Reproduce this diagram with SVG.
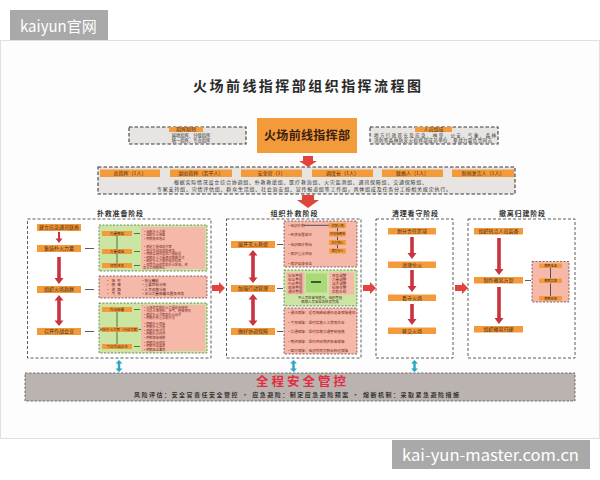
<svg xmlns="http://www.w3.org/2000/svg" width="600" height="480" viewBox="0 0 600 480">
<style>
.cn{font-family:"Noto Sans CJK SC","Noto Sans",sans-serif}
.or{fill:#f39b3b}
.gb{fill:#e7e4e1;stroke:#3a3a3a;stroke-width:1.1;stroke-dasharray:3.5 2}
.ph{fill:#fff;stroke:#4a4a4a;stroke-width:0.9;stroke-dasharray:3 2}
.gr{fill:#cbe5a3;stroke:#5a6a4a;stroke-width:0.8;stroke-dasharray:2 1.5}
.pk{fill:#f6b8a9;stroke:#6a4a4a;stroke-width:0.8;stroke-dasharray:2 1.5}
.pkf{fill:#f6b8a9}
.tg{font-size:5px;fill:#4a2a14;text-anchor:middle}
.ts{font-size:3.2px;fill:#7a2a20}
.tm{font-size:3.6px;fill:#7a2a20}
.ph-t{font-size:7px;fill:#333;text-anchor:middle;font-weight:600}
.ra{fill:#e2433a}
.da{fill:#c9323f}
.ca{fill:#2ba6c6}
.ln{stroke:#333;stroke-width:0.8}
.gl{stroke:#2f5a1f;stroke-width:0.8}
.wm{fill:#a9a9a9}
.wt{font-size:15px;fill:#fff}
</style>
<defs>
<path id="cyan" d="M0 0L3.5 3.5H1.2V8.5H3.5L0 12L-3.5 8.5H-1.2V3.5H-3.5Z"/>
</defs>

<rect x="0.5" y="40.5" width="599" height="398" fill="#fdfdfd" stroke="#e0e0e0"/>

<g id="watermark-top">
<rect class="wm" x="10" y="10" width="98" height="30"/>
<text class="cn wt" x="20" y="32">kaiyun官网</text>
</g>
<g id="watermark-bottom">
<rect class="wm" x="392" y="440" width="198" height="29"/>
<text class="cn wt" x="402" y="461" textLength="177" lengthAdjust="spacingAndGlyphs">kai-yun-master.com.cn</text>
</g>

<g id="title">
<text class="cn" x="193" y="91" font-size="14" font-weight="600" fill="#2a2a2a" textLength="228">火场前线指挥部组织指挥流程图</text>
</g>

<g id="hq">
<rect class="or" x="257" y="118" width="100" height="35"/>
<text class="cn" x="264" y="140" font-size="12" font-weight="700" fill="#3a2010" textLength="86">火场前线指挥部</text>
</g>

<g id="principle">
<rect class="gb" x="129" y="127" width="117" height="17"/>
<rect class="or" x="169" y="127" width="34" height="5"/>
<text class="cn tg" x="186" y="131" font-size="4.5">指挥原则</text>
<text class="cn" x="191" y="137" font-size="4.3" fill="#333" text-anchor="middle">属地指挥、分级指挥</text>
<text class="cn" x="191" y="142" font-size="4.3" fill="#333" text-anchor="middle">统一指挥、专业指挥</text>
</g>

<g id="members">
<rect class="gb" x="370" y="127" width="128" height="17"/>
<rect class="or" x="415" y="127" width="37" height="5"/>
<text class="cn tg" x="433.5" y="131" font-size="4.5">人员组成</text>
<text class="cn" x="374" y="137" font-size="4.5" fill="#333" textLength="122">地方行政首长及应急、林草、公安、气象、森林</text>
<text class="cn" x="374" y="142" font-size="4.5" fill="#333" textLength="118">消防等森林防灭火指挥部成员单位、参战力量负责同志</text>
</g>

<g id="roles">
<rect class="gb" x="98" y="167" width="417" height="27"/>
<rect class="or" x="100" y="169.5" width="60" height="7.5"/>
<rect class="or" x="170" y="169.5" width="62" height="7.5"/>
<rect class="or" x="241" y="169.5" width="61" height="7.5"/>
<rect class="or" x="312" y="169.5" width="61" height="7.5"/>
<rect class="or" x="382" y="169.5" width="61" height="7.5"/>
<rect class="or" x="452" y="169.5" width="62" height="7.5"/>
<text class="cn tg" x="130" y="175">总指挥（1人）</text>
<text class="cn tg" x="201" y="175">副总指挥（若干人）</text>
<text class="cn tg" x="271.5" y="175">安全官（1）</text>
<text class="cn tg" x="342.5" y="175">调度长（1人）</text>
<text class="cn tg" x="412.5" y="175">联络人（1人）</text>
<text class="cn tg" x="483" y="175">新闻发言人（1人）</text>
<text class="cn" x="174" y="184" font-size="5" fill="#333" textLength="253">根据实际情况设立综合协调组、扑救救援组、医疗救治组、火灾监测组、通讯保障组、交通保障组、</text>
<text class="cn" x="157" y="190.5" font-size="5" fill="#333" textLength="294">专家支持组、灾情评估组、群众生活组、社会治安组、宣传报道组等工作组，具体组成及任务分工按相关规定执行。</text>
</g>

<g id="phase1">
<text class="cn ph-t" x="120" y="215.5" textLength="46">扑救准备阶段</text>
<rect class="ph" x="27.5" y="219" width="183.5" height="139"/>
<rect class="or" x="37" y="224" width="44" height="7"/>
<text class="cn tg" x="59" y="229.3">建立应急通讯联络</text>
<rect class="or" x="37" y="245" width="44" height="7"/>
<text class="cn tg" x="59" y="250.3">集结扑火力量</text>
<rect class="or" x="37" y="286" width="44" height="7"/>
<text class="cn tg" x="59" y="291.3">组织火场勘察</text>
<rect class="or" x="37" y="328" width="44" height="7"/>
<text class="cn tg" x="59" y="333.3">召开作战会议</text>
</g>

<g id="p1-muster">
<rect class="gr" x="99" y="225" width="108" height="46"/>
<rect class="pkf" x="141" y="227" width="64" height="42"/>
<line class="gl" x1="117" y1="236" x2="117" y2="249"/>
<line class="gl" x1="117" y1="254" x2="117" y2="263"/>
<rect class="or" x="102" y="231" width="30" height="5"/>
<text class="cn" x="117" y="234.8" font-size="3.6" fill="#4a2a14" text-anchor="middle">力量集结</text>
<rect class="or" x="102" y="249" width="30" height="5"/>
<text class="cn" x="117" y="252.8" font-size="3.6" fill="#4a2a14" text-anchor="middle">力量编组</text>
<rect class="or" x="102" y="263" width="30" height="5"/>
<text class="cn" x="117" y="266.8" font-size="3.6" fill="#4a2a14" text-anchor="middle">领受任务</text>
<line class="gl" x1="134" y1="233.5" x2="140" y2="233.5"/>
<line class="gl" x1="134" y1="251.5" x2="140" y2="251.5"/>
<line class="gl" x1="134" y1="265.5" x2="140" y2="265.5"/>
<g class="cn ts">
<text x="143" y="232.5">•调集扑火力量</text>
<text x="143" y="236">•调配扑火装备</text>
<text x="143" y="239.5">•明确集结地点</text>
<text x="143" y="248">•确定力量编组方案</text>
<text x="143" y="251.5">•划分作战区域和任务</text>
<text x="143" y="255">•明确各组任务和力量配置</text>
<text x="143" y="258.5">•明确扑火力量通讯联络方式</text>
<text x="143" y="262">•确定扑火力量的组织指挥</text>
<text x="143" y="265.5">•领受作战任务和扑火区域，任</text>
<text x="143" y="269">  务分工明确到人</text>
</g>
</g>

<g id="p1-survey">
<rect class="pk" x="99" y="276" width="108" height="22"/>
<g class="cn" font-size="3.6" fill="#5a2018">
<text x="106" y="281.5" letter-spacing="2">•地形</text>
<text x="106" y="286" letter-spacing="2">•植被</text>
<text x="106" y="290.5" letter-spacing="2">•道路</text>
<text x="106" y="295" letter-spacing="2">•气象</text>
<text x="141" y="281.5">•林火蔓延</text>
<text x="141" y="286">•重要目标分布</text>
<text x="141" y="290.5">•人员设施分布</text>
<text x="141" y="295">•灭火力量部署位置及任务</text>
</g>
</g>

<g id="p1-plan">
<rect class="gr" x="99" y="303" width="108" height="50"/>
<rect class="pkf" x="141" y="305" width="64" height="46"/>
<line class="gl" x1="117" y1="312" x2="117" y2="327"/>
<line class="gl" x1="117" y1="332" x2="117" y2="344"/>
<rect class="or" x="102" y="307" width="30" height="5"/>
<text class="cn" x="117" y="310.8" font-size="3.6" fill="#4a2a14" text-anchor="middle">作战部署</text>
<rect class="or" x="102" y="327" width="36" height="5"/>
<text class="cn" x="120" y="330.8" font-size="3.4" fill="#4a2a14" text-anchor="middle">制定扑火方案（行动方案）</text>
<rect class="or" x="102" y="344" width="30" height="5"/>
<text class="cn" x="117" y="347.8" font-size="3.6" fill="#4a2a14" text-anchor="middle">下达作战命令</text>
<line class="gl" x1="134" y1="309.5" x2="140" y2="309.5"/>
<line class="gl" x1="138.5" y1="329.5" x2="141" y2="329.5"/>
<line class="gl" x1="134" y1="346.5" x2="140" y2="346.5"/>
<g class="cn ts">
<text x="143" y="308.5">•火场态势和扑火力量综合研判</text>
<text x="143" y="312">•分析火场地形、天气、植被情况</text>
<text x="143" y="315.5">•确定扑火方案和扑火战术</text>
<text x="143" y="319">•明确扑救重点和方法</text>
<text x="143" y="324.5">•明确扑火目标</text>
<text x="143" y="328">•明确扑火力量</text>
<text x="143" y="331.5">•明确扑救方法</text>
<text x="143" y="335">•明确扑火时间</text>
<text x="143" y="338.5">•明确保障措施</text>
<text x="143" y="343.5">•明确作战任务</text>
<text x="143" y="347">•明确作战要求</text>
<text x="143" y="350.5">•明确安全事项</text>
</g>
</g>

<g id="phase2">
<text class="cn ph-t" x="294" y="215.5" textLength="47">组织扑救阶段</text>
<rect class="ph" x="226.5" y="219" width="134.5" height="139"/>
<rect class="or" x="231" y="241" width="44" height="7"/>
<text class="cn tg" x="253" y="246.3">展开灭火救援</text>
<rect class="or" x="231" y="285" width="44" height="7"/>
<text class="cn tg" x="253" y="290.3">加强行动管理</text>
<rect class="or" x="231" y="328" width="44" height="7"/>
<text class="cn tg" x="253" y="333.3">做好协调保障</text>
</g>

<g id="p2-rescue">
<rect class="pk" x="284" y="221" width="73" height="46"/>
<g class="cn tm">
<text x="287" y="226.5">•组织扑救</text>
<text x="287" y="236">•转移安置群众</text>
<text x="287" y="245.5">•组织医疗救治</text>
<text x="287" y="255">•保护重点目标</text>
<text x="287" y="264.5">•保护自身安全</text>
</g>
<line class="ln" x1="304" y1="225.3" x2="329" y2="225.3"/>
<line class="ln" x1="337.5" y1="228" x2="337.5" y2="231.5"/>
<line class="ln" x1="337.5" y1="236.5" x2="337.5" y2="240"/>
<line class="ln" x1="337.5" y1="245" x2="337.5" y2="248.5"/>
<rect class="or" x="329" y="223" width="17" height="5"/>
<rect class="or" x="329" y="231.5" width="17" height="5"/>
<rect class="or" x="329" y="240" width="17" height="5"/>
<rect class="or" x="329" y="248.5" width="17" height="5"/>
<g class="cn" font-size="3" fill="#4a2a14" text-anchor="middle">
<text x="337.5" y="226.6">侦察火情</text>
<text x="337.5" y="235.1">开设隔离带</text>
<text x="337.5" y="243.6">扑打明火</text>
<text x="337.5" y="252.1">清理余火</text>
</g>
</g>

<g id="p2-manage">
<rect class="gr" x="284" y="270" width="73" height="36"/>
<rect class="pkf" x="286.5" y="272.5" width="18" height="22"/>
<rect class="pkf" x="329" y="272.5" width="25" height="22"/>
<rect x="306" y="273.5" width="21" height="19" fill="#a9da78"/>
<rect x="311" y="281.2" width="10" height="1.6" fill="#2a3a1a"/>
<g class="cn tm">
<text x="288" y="276.5">队伍管理</text>
<text x="288" y="280.5">安全管理</text>
<text x="288" y="284.5">行动管理</text>
<text x="288" y="288.5">现场管理</text>
<text x="288" y="292.5">通讯管理</text>
<text x="332" y="276.5">任务调整</text>
<text x="332" y="280.5">力量调整</text>
<text x="332" y="284.5">战术调整</text>
<text x="332" y="288.5">轮换休整</text>
<text x="332" y="292.5">后勤补给</text>
</g>
<g class="cn" font-size="3.4" fill="#4a2a14" text-anchor="middle">
<text x="320" y="299.2">平人员在营地值守，组织管理</text>
<text x="320" y="303">确保人员安全及任务完成</text>
</g>
</g>

<g id="p2-support">
<rect class="pk" x="284" y="308" width="73" height="46"/>
<g class="cn tm">
<text x="287" y="314">•通讯保障：没有网络和通讯设备保障通讯</text>
<text x="287" y="323.5">•气象保障：适时实施人工增雨作业</text>
<text x="287" y="333">•交通保障：适时实施交通管制措施</text>
<text x="287" y="342.5">•物资保障：适时供给物资装备保障</text>
<text x="287" y="351.5">•医疗保障：组织伤病员救治转运保障</text>
</g>
</g>

<g id="phase3">
<text class="cn ph-t" x="415" y="215.5" textLength="46">清理看守阶段</text>
<rect class="ph" x="376" y="219" width="77" height="139"/>
<rect class="or" x="388" y="228" width="48" height="6.5"/>
<text class="cn tg" x="412" y="233">划分责任区域</text>
<rect class="or" x="388" y="261.5" width="48" height="6.5"/>
<text class="cn tg" x="412" y="266.5">清理余火</text>
<rect class="or" x="388" y="294.5" width="48" height="6.5"/>
<text class="cn tg" x="412" y="299.5">看守火场</text>
<rect class="or" x="388" y="327.5" width="48" height="6.5"/>
<text class="cn tg" x="412" y="332.5">移交火场</text>
</g>

<g id="phase4">
<text class="cn ph-t" x="522" y="215.5" textLength="46">撤离归建阶段</text>
<rect class="ph" x="468" y="219" width="107" height="139"/>
<rect class="or" x="474" y="228" width="49" height="6.5"/>
<text class="cn tg" x="498.5" y="233">组织转点人员装备</text>
<rect class="or" x="474" y="277" width="49" height="6.5"/>
<text class="cn tg" x="498.5" y="282">制作撤离方案</text>
<rect class="or" x="474" y="326" width="49" height="6.5"/>
<text class="cn tg" x="498.5" y="331">组织撤离归建</text>
</g>

<g id="p4-steps">
<rect class="pk" x="532" y="261.5" width="37" height="40.5"/>
<line class="ln" x1="550.5" y1="268" x2="550.5" y2="278.5"/>
<line class="ln" x1="550.5" y1="283.5" x2="550.5" y2="296.5"/>
<rect class="or" x="539" y="263.5" width="23" height="4.5"/>
<rect class="or" x="539" y="278.5" width="23" height="4.5"/>
<rect class="or" x="539" y="296" width="23" height="4.5"/>
<g class="cn" font-size="3.2" fill="#4a2a14" text-anchor="middle">
<text x="550.5" y="267">撤离准备</text>
<text x="550.5" y="282">撤离实施</text>
<text x="550.5" y="299.5">撤离结束</text>
</g>
</g>

<g id="safety">
<rect x="25" y="373" width="550" height="28" fill="#bbb3af" stroke="#555" stroke-width="0.8" stroke-dasharray="2.5 1.5"/>
<text class="cn" x="256" y="386" font-size="12.5" font-weight="700" fill="#e22d42" textLength="90">全程安全管控</text>
<text class="cn" x="134" y="396.5" font-size="6" font-weight="600" fill="#333" textLength="325">风险评估：安全官责任安全管控 · 应急避险：制定应急避险预案 · 熔断机制：采取紧急避险措施</text>
</g>

<g id="connectors">
<path class="ra" d="M303 156H313V161H317L308 167L299 161H303Z"/>
<path class="ra" d="M302 195H314V200H319L308 208L297 200H302Z"/>
<path class="ra" d="M212 285H219V282L225 288L219 294V291H212Z"/>
<path class="ra" d="M363 285H370V282L376 288L370 294V291H363Z"/>
<path class="ra" d="M455 285H462V282L468 288L462 294V291H455Z"/>
<path class="da" d="M58 232H60V238.5H62.5L59 243L55.5 238.5H58Z"/>
<path class="da" d="M57.2 257H60.8V278H63.5L59 284L54.5 278H57.2Z"/>
<path class="da" d="M59 295L63.5 300.5H60.8V320.5H63.5L59 326L54.5 320.5H57.2V300.5H54.5Z"/>
<path class="da" d="M253 250L257.5 255.5H254.8V277.5H257.5L253 283L248.5 277.5H251.2V255.5H248.5Z"/>
<path class="da" d="M253 294L257.5 299.5H254.8V320.5H257.5L253 326L248.5 320.5H251.2V299.5H248.5Z"/>
<path class="da" d="M410.2 237H413.8V253H416.5L412 259L407.5 253H410.2Z"/>
<path class="da" d="M410.2 270H413.8V286H416.5L412 292L407.5 286H410.2Z"/>
<path class="da" d="M410.2 304H413.8V319H416.5L412 325L407.5 319H410.2Z"/>
<path class="da" d="M497.2 238H500.8V269H503.5L499 275L494.5 269H497.2Z"/>
<path class="da" d="M497.2 287H500.8V318H503.5L499 324L494.5 318H497.2Z"/>
<line class="ln" x1="85" y1="248.5" x2="94" y2="248.5"/>
<line class="ln" x1="85" y1="289.5" x2="94" y2="289.5"/>
<line class="ln" x1="85" y1="331.5" x2="94" y2="331.5"/>
<line class="ln" x1="277" y1="244.5" x2="283" y2="244.5"/>
<line class="ln" x1="277" y1="288.5" x2="283" y2="288.5"/>
<line class="ln" x1="277" y1="331.5" x2="283" y2="331.5"/>
<line class="ln" x1="525" y1="280.5" x2="531" y2="280.5"/>
<use class="ca" href="#cyan" x="119" y="360"/>
<use class="ca" href="#cyan" x="293.5" y="360"/>
<use class="ca" href="#cyan" x="414.5" y="360"/>
</g>
</svg>
